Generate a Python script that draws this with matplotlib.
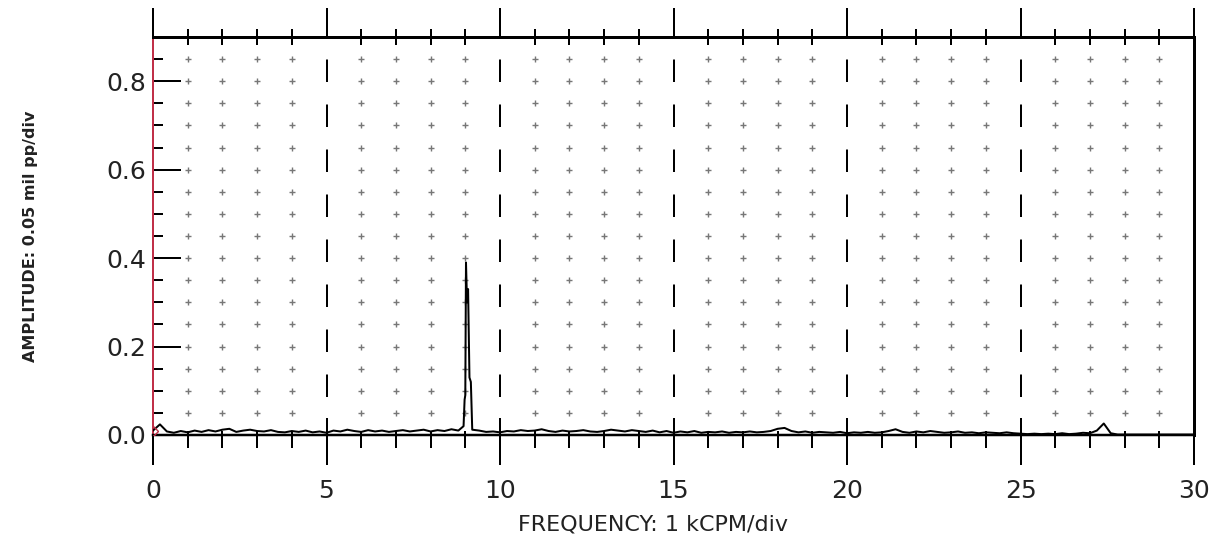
import numpy as np
import matplotlib
matplotlib.use('Agg')
import matplotlib.pyplot as plt

# spectrum baseline, sampled every 0.2 kCPM from 0 to 30
base_step = 0.2
base_amp = [
    0.010, 0.024, 0.008, 0.005, 0.009, 0.006, 0.010, 0.007, 0.011, 0.008,
    0.012, 0.014, 0.007, 0.010, 0.012, 0.009, 0.008, 0.011, 0.007, 0.006,
    0.009, 0.007, 0.010, 0.006, 0.008, 0.005, 0.010, 0.008, 0.012, 0.009,
    0.007, 0.011, 0.008, 0.010, 0.007, 0.009, 0.011, 0.008, 0.010, 0.012,
    0.008, 0.011, 0.009, 0.013, 0.010, 0.090, 0.012, 0.010, 0.007, 0.008,
    0.006, 0.009, 0.008, 0.011, 0.009, 0.010, 0.013, 0.009, 0.007, 0.010,
    0.008, 0.009, 0.011, 0.008, 0.007, 0.009, 0.012, 0.010, 0.008, 0.011,
    0.009, 0.007, 0.010, 0.006, 0.009, 0.005, 0.008, 0.006, 0.009, 0.005,
    0.007, 0.006, 0.008, 0.005, 0.007, 0.006, 0.008, 0.006, 0.007, 0.009,
    0.014, 0.016, 0.009, 0.006, 0.008, 0.005, 0.007, 0.006, 0.005, 0.007,
    0.004, 0.006, 0.005, 0.007, 0.005, 0.006, 0.009, 0.013, 0.007, 0.005,
    0.008, 0.006, 0.009, 0.007, 0.005, 0.006, 0.008, 0.005, 0.006, 0.004,
    0.006, 0.005, 0.004, 0.006, 0.004, 0.003, 0.002, 0.003, 0.002, 0.003,
    0.002, 0.004, 0.002, 0.003, 0.005, 0.004, 0.010, 0.026, 0.004, 0.001,
    0.001, 0.001, 0.001, 0.001, 0.001, 0.001, 0.001, 0.001, 0.001, 0.001,
    0.001,
]

# finer samples around the 1x peak near 9 kCPM
peak_freq = [8.95, 8.98, 9.02, 9.05, 9.08, 9.12, 9.16]
peak_amp = [0.020, 0.080, 0.390, 0.300, 0.330, 0.130, 0.120]

x_major = [0, 5, 10, 15, 20, 25, 30]
y_major = [0.0, 0.2, 0.4, 0.6, 0.8]

base_freq = np.arange(len(base_amp)) * base_step
freq = np.concatenate([base_freq, peak_freq])
amp = np.concatenate([base_amp, peak_amp])
order = np.argsort(freq, kind='stable')
freq, amp = freq[order], amp[order]

PX = 72 / 100.0  # points per pixel

fig = plt.figure(figsize=(12.12, 5.44), dpi=100)
ax = fig.add_axes([153 / 1212, 1 - 435 / 544, 1041 / 1212, 398 / 544])
ax.set_xlim(0, 30)
ax.set_ylim(0, 0.9)

# dotted grid: dots at every minor x / minor y crossing
gx = [v for v in range(1, 30) if v % 5]
gy = np.arange(1, 18) * 0.05
GX, GY = np.meshgrid(gx, gy)
ax.scatter(GX.ravel(), GY.ravel(), marker='+', s=14, lw=1.0, color='#777777', zorder=1)

# dashed major verticals
for v in x_major[1:-1]:
    ax.axvline(v, color='black', lw=2 * PX, linestyle=(3.5, (11.25, 11.25)), zorder=2)

ax.plot(freq, amp, color='black', lw=2 * PX, zorder=3)
ax.plot(freq[:1], amp[:1], marker='D', ms=5, mfc='none', mec='#c03048', mew=1, zorder=4)

# spines
ax.spines['left'].set_color('#c03048')
ax.spines['left'].set_linewidth(2 * PX)
ax.spines['top'].set_linewidth(3 * PX)
ax.spines['right'].set_linewidth(3 * PX)
ax.spines['bottom'].set_linewidth(2.5 * PX)

# bottom axis ticks (outward part + labels)
ax.set_xticks(x_major)
ax.set_xticks(range(31), minor=True)
ax.tick_params(axis='x', which='major', direction='out', length=30 * PX, width=2 * PX,
               labelsize=18, pad=10, labelcolor='#222222')
ax.tick_params(axis='x', which='minor', direction='out', length=13 * PX, width=2 * PX)

# inward part of the bottom ticks
sb = ax.secondary_xaxis('bottom')
sb.set_xticks(x_major)
sb.set_xticks(range(31), minor=True)
sb.tick_params(which='major', direction='in', length=17 * PX, width=2 * PX, labelbottom=False)
sb.tick_params(which='minor', direction='in', length=4 * PX, width=2 * PX)
sb.spines['bottom'].set_visible(False)

# top axis ticks
st = ax.secondary_xaxis('top')
st.set_xticks(x_major)
st.set_xticks(range(31), minor=True)
st.tick_params(which='major', direction='out', length=29 * PX, width=2 * PX, labeltop=False)
st.tick_params(which='minor', direction='inout', length=16 * PX, width=2 * PX)
st.spines['top'].set_visible(False)

# y ticks, pointing into the plot
ax.set_yticks(y_major)
ax.set_yticks(np.arange(0, 0.9, 0.05), minor=True)
ax.set_yticklabels(['%.1f' % v for v in y_major])
ax.tick_params(axis='y', which='major', direction='in', length=28 * PX, width=2 * PX,
               labelsize=18, pad=5, labelcolor='#222222')
ax.tick_params(axis='y', which='minor', direction='in', length=10 * PX, width=2 * PX)

ax.set_xlabel('FREQUENCY: 1 kCPM/div', fontsize=16, color='#222222')
ax.xaxis.set_label_coords(0.48, -0.226)
ax.xaxis.label.set_va('center')
ax.set_ylabel('AMPLITUDE: 0.05 mil pp/div', fontsize=11.5, fontweight='bold', color='#222222')
ax.yaxis.set_label_coords(-0.118, 0.5)
ax.yaxis.label.set_va('center')

fig.savefig('out.png', dpi=100)
